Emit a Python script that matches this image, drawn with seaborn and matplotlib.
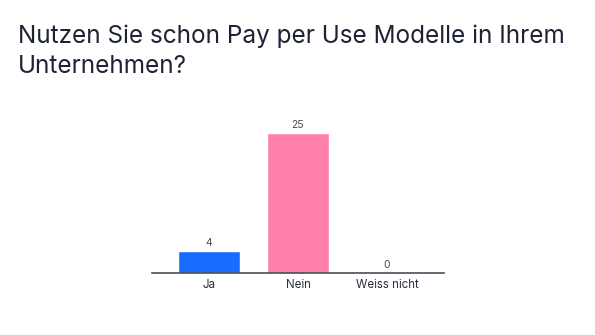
import matplotlib
matplotlib.use("Agg")
import matplotlib.pyplot as plt
import seaborn as sns
import pandas as pd

categories = ["Ja", "Nein", "Weiss nicht"]
values = [4, 25, 0]
colors = ["#196CFF", "#FF80AB", "#BDBDBD"]
title = "Nutzen Sie schon Pay per Use Modelle in Ihrem\nUnternehmen?"

sns.set_theme(style="white")
plt.rcParams['font.family'] = ['Inter', 'DejaVu Sans']

df = pd.DataFrame({"cat": categories, "val": values})

fig = plt.figure(figsize=(5.95, 3.35), dpi=100)
ax = fig.add_axes([152/595, 62/335, 292/595, 156.8/335])
sns.barplot(data=df, x="cat", y="val", hue="cat", palette=colors, width=0.7,
            legend=False, ax=ax, saturation=1)
ax.set_xlim(-0.64, 2.64)
ax.set_ylim(0, 28)
for p, v in zip(ax.patches, values):
    ax.annotate(str(v), (p.get_x() + p.get_width()/2, v), xytext=(0, 2),
                textcoords="offset points", ha="center", va="bottom",
                fontsize=7.5, color="#4a4a55")
for s in ["top", "right", "left"]:
    ax.spines[s].set_visible(False)
ax.spines["bottom"].set_color("#4a4d5a")
ax.spines["bottom"].set_linewidth(1.2)
ax.set_yticks([])
ax.set_xlabel("")
ax.set_ylabel("")
ax.tick_params(axis="x", length=0, pad=4, labelsize=8.3, labelcolor="#2b2e3a")
fig.text(18/595, 1 - 24/335, title, fontsize=17.5, color="#1e2235", va="top", ha="left",
         linespacing=1.4)
fig.savefig("out.png", dpi=100)
